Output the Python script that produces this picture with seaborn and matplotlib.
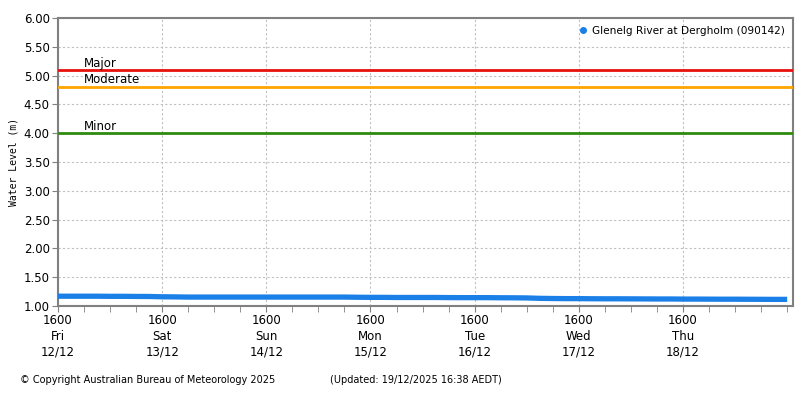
import numpy as np
import pandas as pd
import matplotlib
matplotlib.use("Agg")
import matplotlib.pyplot as plt
import seaborn as sns
from matplotlib.lines import Line2D
from matplotlib.ticker import MultipleLocator

# hours since Fri 12/12 16:00, 3-hourly readings
hours = list(range(0, 169, 3))
level = [1.170, 1.170, 1.170, 1.170, 1.168, 1.168, 1.166, 1.165,
         1.160, 1.158, 1.155, 1.155, 1.155, 1.155, 1.155, 1.155,
         1.155, 1.155, 1.155, 1.155, 1.155, 1.155, 1.155, 1.152,
         1.150, 1.150, 1.148, 1.148, 1.148, 1.148, 1.146, 1.145,
         1.145, 1.145, 1.143, 1.142, 1.140, 1.133, 1.130, 1.128,
         1.128, 1.126, 1.125, 1.125, 1.124, 1.123, 1.122, 1.122,
         1.120, 1.120, 1.119, 1.118, 1.118, 1.117, 1.116, 1.115,
         1.115]

thresh_names = ["Major", "Moderate", "Minor"]
thresh_levels = [5.10, 4.81, 4.00]
thresh_colors = ["#e8100c", "#ffa500", "#2e8b0e"]

day_ticks = [0, 24, 48, 72, 96, 120, 144]
day_labels = ["1600\nFri\n12/12", "1600\nSat\n13/12", "1600\nSun\n14/12",
              "1600\nMon\n15/12", "1600\nTue\n16/12", "1600\nWed\n17/12",
              "1600\nThu\n18/12"]

station = "Glenelg River at Dergholm (090142)"

df = pd.DataFrame({"hours": hours, "level": level})

sns.set_style("white")
plt.rcParams["font.family"] = ["DejaVu Sans"]
plt.rcParams["text.color"] = "black"
plt.rcParams["xtick.labelcolor"] = "black"
plt.rcParams["ytick.labelcolor"] = "black"
plt.rcParams["axes.labelcolor"] = "black"

fig = plt.figure(figsize=(8, 4), dpi=100)
ax = fig.add_axes([0.0725, 0.235, 0.9185, 0.72])

# threshold lines
for name, lvl, col in zip(thresh_names, thresh_levels, thresh_colors):
    ax.axhline(lvl, color=col, linewidth=2, zorder=3)
    ax.text(26 / 104.2 * 24, lvl + 0.005, name, fontsize=8.5, color="black",
            va="bottom", ha="left", zorder=4)

sns.lineplot(data=df, x="hours", y="level", ax=ax, color="#1a7fe6",
             linewidth=3.8, legend=False, zorder=5, solid_capstyle="butt")

ax.set_xlim(0, 169.3)
ax.set_ylim(1.0, 6.0)
ax.yaxis.set_major_locator(MultipleLocator(0.5))
ax.yaxis.set_major_formatter(matplotlib.ticker.FormatStrFormatter("%.2f"))
ax.set_xticks(day_ticks)
ax.set_xticklabels(day_labels, fontsize=8.5, linespacing=1.25)
ax.set_xticks(range(0, 169, 6), minor=True)
ax.tick_params(axis="x", which="both", direction="out", length=4, color="#808080",
               bottom=True, pad=2)
ax.tick_params(axis="y", direction="out", length=4, color="#808080", left=True,
               labelsize=8.5, pad=2)

ax.grid(True, which="major", linestyle=(0, (2, 2)), color="#c0c0c0", linewidth=0.8)
for s in ax.spines.values():
    s.set_color("#808080")
    s.set_linewidth(1.5)

ax.set_xlabel("")
ax.set_ylabel("Water Level (m)", fontsize=7, family="DejaVu Sans Mono", labelpad=4)

handle = Line2D([], [], marker="o", color="#1a7fe6", linestyle="none", markersize=4)
ax.legend([handle], [station], loc="upper right", frameon=False, fontsize=7.6,
          handletextpad=0.4, borderaxespad=0.35, handlelength=1)

fig.text(20 / 800, 1 - 380 / 400, "\u00a9 Copyright Australian Bureau of Meteorology 2025",
         fontsize=7, va="center", ha="left")
fig.text(330 / 800, 1 - 380 / 400, "(Updated: 19/12/2025 16:38 AEDT)",
         fontsize=7, va="center", ha="left")

fig.savefig("out.png", dpi=100)
